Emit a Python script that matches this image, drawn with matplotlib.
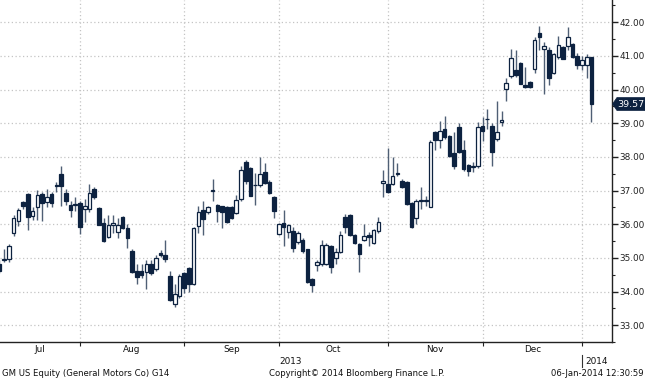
import numpy as np
import pandas as pd
import matplotlib
matplotlib.use("Agg")
import matplotlib.pyplot as plt
from matplotlib.patches import Rectangle, Polygon
from matplotlib.lines import Line2D
import matplotlib.transforms as mtransforms

# ---------------- data ----------------
holidays = ["2013-09-02", "2013-11-28", "2013-12-25", "2014-01-01"]
dates = pd.bdate_range("2013-07-09", "2014-01-06")
dates = dates[~dates.isin(pd.to_datetime(holidays))]

opens = [34.82, 34.93, 34.96, 35.73, 36.09, 36.65, 36.90, 36.24, 36.51, 36.91,
         36.67, 36.91, 37.17, 37.48, 36.94, 36.58, 36.58, 36.63, 36.46, 36.46,
         37.06, 36.48, 36.04, 35.63, 35.99, 35.78, 36.22, 35.88, 35.20, 34.62,
         34.62, 34.57, 34.83, 34.67, 35.15, 35.07, 34.47, 33.63, 33.86, 34.54,
         34.69, 34.23, 35.95, 36.41, 36.36, 36.98, 36.56, 36.53, 36.51, 36.51,
         36.34, 36.75, 37.86, 37.67, 37.17, 37.16, 37.55, 37.24, 36.80, 35.70,
         36.05, 35.76, 35.80, 35.47, 35.54, 35.25, 34.37, 34.79, 34.81, 34.83,
         35.34, 35.00, 35.18, 36.22, 36.28, 35.68, 35.41, 35.54, 35.68, 35.44,
         35.80, 37.21, 37.19, 37.19, 37.50, 37.28, 37.25, 36.63, 36.17, 36.70,
         36.70, 36.51, 38.74, 38.51, 38.83, 38.61, 38.10, 38.88, 38.20, 37.77,
         37.71, 37.72, 38.91, 39.11, 38.93, 38.54, 39.03, 40.01, 40.40, 40.58,
         40.79, 40.14, 40.21, 40.60, 41.69, 41.21, 41.18, 40.50, 40.96, 41.27,
         41.30, 41.34, 41.01, 40.72, 40.72, 40.97]
highs = [34.95, 35.25, 35.40, 36.26, 36.48, 36.70, 36.94, 36.51, 37.01, 36.95,
         37.04, 36.96, 37.25, 37.74, 37.04, 36.70, 36.80, 36.68, 36.76, 37.19,
         37.10, 36.50, 36.17, 36.28, 36.28, 36.19, 36.25, 36.02, 35.25, 34.81,
         34.81, 34.93, 34.95, 35.08, 35.22, 35.54, 34.62, 34.23, 34.52, 34.59,
         34.72, 35.92, 36.55, 36.70, 36.55, 37.33, 36.60, 36.55, 36.55, 36.55,
         36.87, 37.74, 37.91, 37.70, 37.52, 38.00, 37.81, 37.30, 36.85, 36.05,
         36.41, 36.00, 35.92, 35.80, 35.58, 35.27, 34.40, 34.93, 35.54, 35.45,
         35.37, 35.30, 35.80, 36.31, 36.31, 35.70, 35.45, 36.02, 35.77, 35.86,
         36.22, 37.60, 38.25, 38.00, 37.81, 37.35, 37.28, 36.65, 36.75, 37.09,
         36.85, 38.50, 38.78, 39.08, 39.22, 38.65, 38.74, 39.00, 38.51, 37.80,
         37.85, 39.03, 39.17, 39.41, 39.00, 39.67, 39.37, 40.33, 41.21, 41.18,
         40.82, 40.67, 40.25, 41.55, 41.88, 41.42, 41.26, 41.10, 41.59, 41.30,
         41.85, 41.37, 41.08, 41.01, 41.06, 40.98]
lows = [34.55, 34.87, 34.87, 35.66, 35.94, 36.45, 35.83, 36.12, 36.12, 36.09,
        36.51, 36.51, 36.95, 36.53, 36.56, 36.22, 36.38, 35.70, 36.07, 36.36,
        36.75, 35.97, 35.47, 35.59, 35.73, 35.60, 35.85, 35.28, 34.55, 34.23,
        34.40, 34.08, 34.50, 34.62, 35.02, 34.89, 33.73, 33.55, 33.82, 33.97,
        33.99, 34.20, 35.75, 35.68, 36.30, 36.70, 36.07, 35.90, 36.05, 36.15,
        36.31, 36.70, 37.19, 36.83, 36.58, 37.09, 37.20, 36.90, 36.19, 35.68,
        35.34, 35.60, 35.18, 35.42, 35.15, 34.25, 33.99, 34.62, 34.76, 34.78,
        34.54, 34.81, 35.15, 35.73, 35.66, 35.42, 34.57, 35.49, 35.35, 35.40,
        35.73, 36.80, 36.93, 37.15, 37.43, 37.07, 36.58, 35.90, 36.00, 36.46,
        36.55, 36.50, 38.20, 38.25, 38.54, 38.00, 37.64, 38.11, 37.57, 37.43,
        37.55, 37.67, 38.47, 38.83, 37.72, 38.47, 38.93, 39.66, 40.33, 40.38,
        40.15, 40.04, 40.04, 40.48, 41.16, 39.88, 40.14, 40.45, 40.91, 40.90,
        41.16, 40.95, 40.62, 40.58, 40.33, 39.03]
closes = [34.62, 34.96, 35.35, 36.19, 36.41, 36.55, 36.22, 36.38, 36.87, 36.63,
          36.80, 36.63, 37.13, 37.12, 36.70, 36.41, 36.59, 35.92, 36.53, 36.94,
          36.80, 35.99, 35.49, 35.97, 36.03, 35.97, 35.88, 35.59, 34.57, 34.42,
          34.50, 34.81, 34.55, 35.00, 35.08, 34.96, 33.74, 33.94, 34.47, 34.11,
          34.21, 35.90, 36.35, 36.15, 36.51, 37.03, 36.38, 36.36, 36.07, 36.19,
          36.73, 37.60, 37.28, 36.85, 37.16, 37.48, 37.22, 36.94, 36.38, 36.02,
          35.92, 35.97, 35.30, 35.73, 35.20, 34.28, 34.18, 34.89, 35.39, 35.37,
          34.72, 35.18, 35.68, 35.92, 35.68, 35.44, 35.10, 35.66, 35.63, 35.83,
          36.07, 37.28, 36.96, 37.43, 37.52, 37.09, 36.60, 35.92, 36.70, 36.71,
          36.71, 38.45, 38.51, 38.78, 38.59, 38.03, 37.72, 38.13, 37.64, 37.57,
          37.73, 38.88, 38.76, 39.13, 38.15, 38.74, 39.10, 40.19, 40.94, 40.43,
          40.17, 40.07, 40.07, 41.47, 41.56, 41.30, 40.33, 41.06, 41.32, 40.92,
          41.55, 40.98, 40.72, 40.87, 40.97, 39.57]

month_labels = ["Jul", "Aug", "Sep", "Oct", "Nov", "Dec"]
year_labels = ["2013", "2014"]
price_ticks = [33, 34, 35, 36, 37, 38, 39, 40, 41, 42]
footer_left = "GM US Equity (General Motors Co) G14"
footer_mid = "Copyright\u00a9 2014 Bloomberg Finance L.P."
footer_right = "06-Jan-2014 12:30:59"

# ---------------- style ----------------
DARK = "#0d2240"
WICK = "#4f5f75"
GRID = "#c4c4c4"
FS = 6.4
FS_FOOT = 6.1
plt.rcParams["font.family"] = ["DejaVu Sans"]

W, H = 645, 380
fig = plt.figure(figsize=(W / 100, H / 100), dpi=100)
fig.patch.set_facecolor("white")
ax = fig.add_axes([0, 1 - 342 / H, 612 / W, 342 / H])
ax.set_facecolor("white")

n = len(dates)
xs = np.arange(n)
o = np.array(opens); h = np.array(highs); l = np.array(lows); c = np.array(closes)

# month boundaries (first trading day of each month)
months = dates.to_period("M")
bounds = [i for i in range(1, n) if months[i] != months[i - 1]]

xmin = bounds[0] - 80 / 4.736
xmax = bounds[0] + (612 - 80) / 4.736
ax.set_xlim(xmin, xmax)
ax.set_ylim(32.72, 42.66)

# grid
for yv in price_ticks:
    ax.axhline(yv, color=GRID, lw=0.9, ls=(0, (1, 2)), zorder=0)
for b in bounds:
    ax.axvline(b, color=GRID, lw=0.9, ls=(0, (1, 2)), zorder=0)

# candles
ax.vlines(xs, l, h, color=WICK, lw=1.0, zorder=2)
bw = 0.76
for i in range(n):
    lo, hi = min(o[i], c[i]), max(o[i], c[i])
    hgt = max(hi - lo, 0.015)
    fc = DARK if c[i] < o[i] else "white"
    ax.add_patch(Rectangle((xs[i] - bw / 2, lo), bw, hgt, facecolor=fc,
                           edgecolor=DARK, lw=0.9, zorder=3))

# spines / ticks
for s in ["left", "top"]:
    ax.spines[s].set_visible(False)
ax.spines["right"].set_color("#222222")
ax.spines["bottom"].set_color("#222222")
ax.spines["right"].set_linewidth(1.0)
ax.spines["bottom"].set_linewidth(1.0)

ax.yaxis.tick_right()
ax.set_yticks(price_ticks)
ax.set_yticklabels([f"{v:.2f}" for v in price_ticks], fontsize=FS, color="#111111")
ax.set_yticks(np.arange(32.5, 42.6, 1.0), minor=True)
ax.tick_params(axis="y", which="major", length=4, width=1.0, pad=1.5, colors="#222222")
ax.tick_params(axis="y", which="minor", length=2, width=0.8, colors="#222222")

ax.set_xticks(bounds)
ax.set_xticklabels([])
ax.tick_params(axis="x", which="major", length=3, width=0.8, colors="#222222")

# month labels centered within each month span
edges = [xmin] + bounds
blend = mtransforms.blended_transform_factory(ax.transData, fig.transFigure)
for k, lab in enumerate(month_labels):
    mid = (edges[k] + edges[k + 1]) / 2
    fig.text(mid, 1 - 349.5 / H, lab, transform=blend, ha="center", va="center",
             fontsize=FS, color="#111111")

# year labels
jan = bounds[-1]
fig.text((xmin + jan) / 2, 1 - 361 / H, year_labels[0], transform=blend,
         ha="center", va="center", fontsize=FS, color="#111111")
fig.text((jan + xmax) / 2, 1 - 361 / H, year_labels[1], transform=blend,
         ha="center", va="center", fontsize=FS, color="#111111")
fig.add_artist(Line2D([jan, jan], [1 - 355 / H, 1 - 367 / H], transform=blend,
                      color="#333333", lw=0.8))

# footer
fig.text(2 / W, 1 - 373.5 / H, footer_left, ha="left", va="center", fontsize=FS_FOOT, color="#111111")
fig.text(357 / W, 1 - 373.5 / H, footer_mid, ha="center", va="center", fontsize=FS_FOOT, color="#111111")
fig.text(644 / W, 1 - 373.5 / H, footer_right, ha="right", va="center", fontsize=FS_FOOT, color="#111111")

# last price tag
last = closes[-1]
yp = ax.transData.transform((0, last))[1]  # display pixels from bottom
pts = [(612.5, yp), (617, yp + 6.5), (645, yp + 6.5), (645, yp - 6.5), (617, yp - 6.5)]
pts = [(px / W, py / H) for px, py in pts]
fig.add_artist(Polygon(pts, closed=True, transform=fig.transFigure,
                       facecolor=DARK, edgecolor=DARK, lw=0.5))
fig.text(631 / W, yp / H, f"{last:.2f}", ha="center", va="center",
         fontsize=FS + 0.4, color="white")

fig.savefig("out.png", dpi=100)
